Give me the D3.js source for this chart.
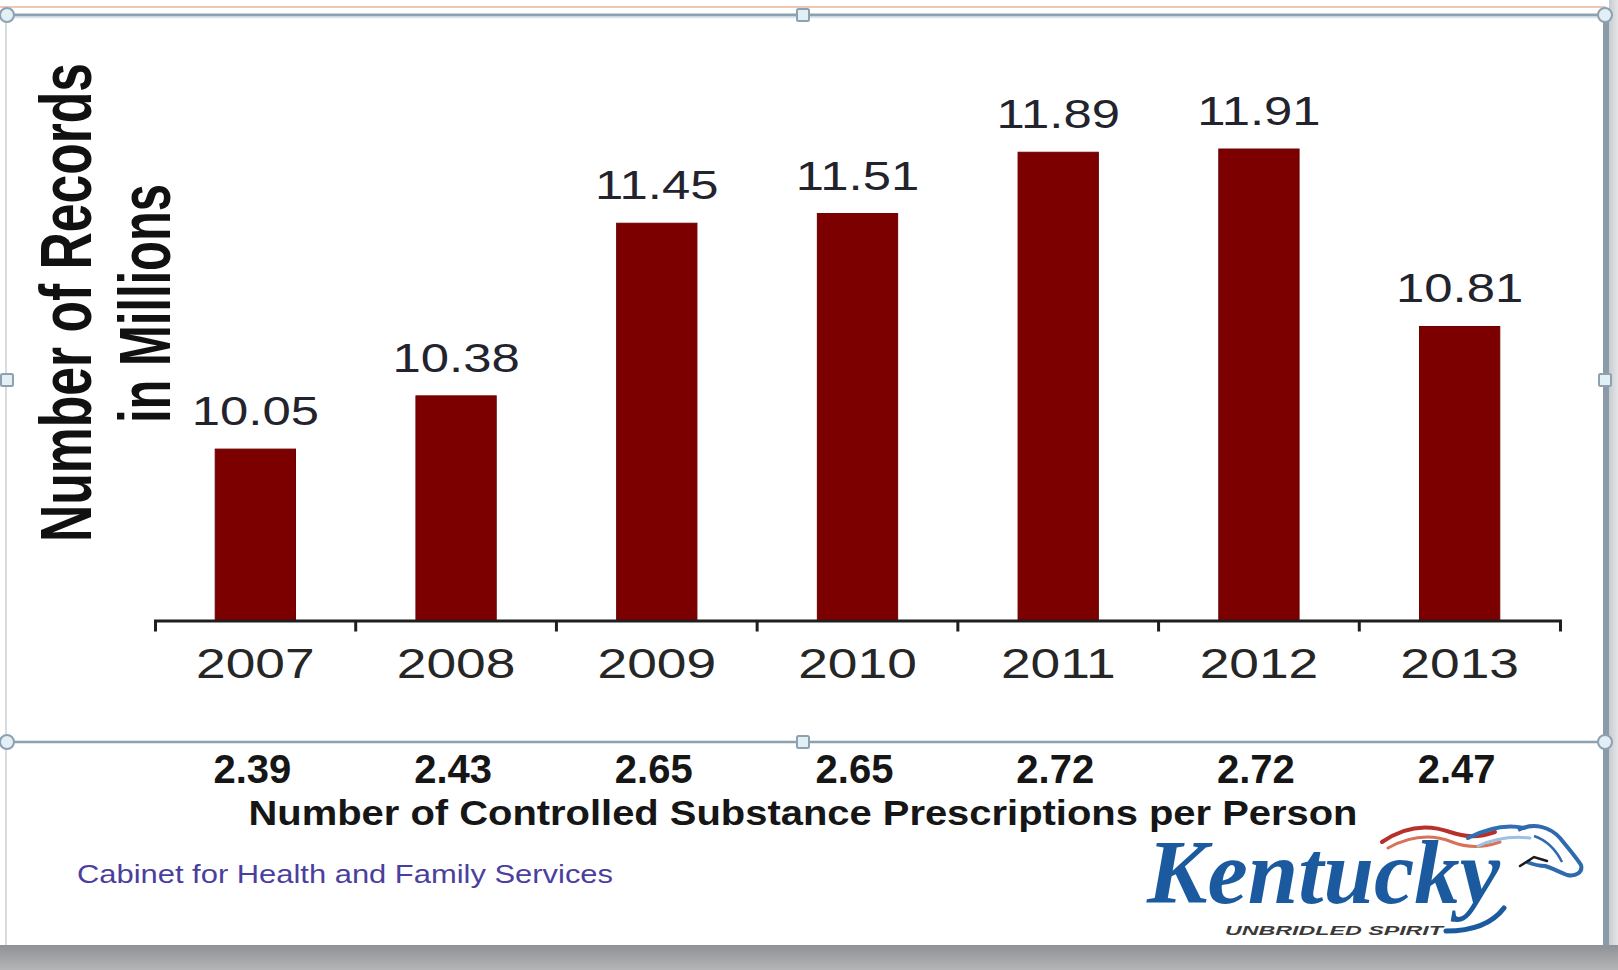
<!DOCTYPE html>
<html>
<head>
<meta charset="utf-8">
<script src="https://cdn.jsdelivr.net/npm/d3@7"></script>
<style>
  html, body { margin: 0; padding: 0; background: #ffffff; }
  svg { display: block; }
</style>
</head>
<body>
<svg id="chart" width="1618" height="970"></svg>
<script>
// Kentucky controlled-substance records, 2007–2013
const years = ["2007", "2008", "2009", "2010", "2011", "2012", "2013"];
const recordsMillions = [10.05, 10.38, 11.45, 11.51, 11.89, 11.91, 10.81];
const rxPerPerson = [2.39, 2.43, 2.65, 2.65, 2.72, 2.72, 2.47];
const valueDomain = [9, 12];

const yTitleLines = ["Number of Records", "in Millions"];
const bottomTitle = "Number of Controlled Substance Prescriptions per Person";
const footerText = "Cabinet for Health and Family Services";
const logoWord = "Kentucky";
const logoTagline = "UNBRIDLED SPIRIT";

const W = 1618, H = 970;
const SANS = "'Liberation Sans', Arial, Helvetica, sans-serif";
const SERIF = "'Liberation Serif', 'Times New Roman', serif";
const BAR = "#7d0000";
const FRAME = "#8da1b3";

const svg = d3.select("#chart");
const defs = svg.append("defs");

// ---- page background and drop shadow of the slide object ----
svg.append("rect").attr("width", W).attr("height", H).attr("fill", "#ffffff");

const gShadow = defs.append("linearGradient").attr("id", "shadowBottom")
  .attr("x1", 0).attr("y1", 0).attr("x2", 0).attr("y2", 1);
gShadow.append("stop").attr("offset", 0).attr("stop-color", "#8f9194");
gShadow.append("stop").attr("offset", 1).attr("stop-color", "#b3b5b7");
const gSide = defs.append("linearGradient").attr("id", "shadowSide")
  .attr("x1", 0).attr("y1", 0).attr("x2", 1).attr("y2", 0);
gSide.append("stop").attr("offset", 0).attr("stop-color", "#c9cccf");
gSide.append("stop").attr("offset", 1).attr("stop-color", "#e4e6e8");

svg.append("rect").attr("x", 1609).attr("y", 0).attr("width", W - 1609).attr("height", 946)
  .attr("fill", "url(#shadowSide)");
svg.append("rect").attr("x", 0).attr("y", 945).attr("width", W).attr("height", H - 945)
  .attr("fill", "url(#shadowBottom)");

// ---- scales ----
const x = d3.scaleBand().domain(years).range([155, 1560])
  .paddingInner(0.6).paddingOuter(0.3);
const y = d3.scaleLinear().domain(valueDomain).range([618.5, 134.5]);
const step = x.step();
const center = d => x(d) + x.bandwidth() / 2;
const baseY = y(valueDomain[0]);

const plot = svg.append("g");

// bars
plot.selectAll("rect.bar")
  .data(years.map((yr, i) => ({ yr, v: recordsMillions[i] })))
  .join("rect")
  .attr("class", "bar")
  .attr("x", d => x(d.yr))
  .attr("y", d => y(d.v))
  .attr("width", x.bandwidth())
  .attr("height", d => baseY - y(d.v) + 2)
  .attr("fill", BAR)
  .attr("stroke", "#6a0000")
  .attr("stroke-width", 1);

// value labels above bars
plot.selectAll("text.val")
  .data(years.map((yr, i) => ({ yr, v: recordsMillions[i] })))
  .join("text")
  .attr("class", "val")
  .attr("transform", d => `translate(${center(d.yr)},${y(d.v) - 24}) scale(1.27,1)`)
  .attr("text-anchor", "middle")
  .attr("font-family", SANS)
  .attr("font-size", 40)
  .attr("fill", "#23232d")
  .text(d => d.v.toFixed(2));

// category axis
const axis = d3.axisBottom(x).tickSize(0).tickSizeOuter(11).tickPadding(0);
const gAxis = plot.append("g").attr("transform", `translate(0,${baseY + 2})`).call(axis);
gAxis.select(".domain").attr("stroke", "#1e1e1e").attr("stroke-width", 3).attr("fill", "none");
gAxis.selectAll(".tick text")
  .attr("y", 0)
  .attr("dy", 0)
  .attr("transform", "translate(0,57) scale(1.24,1)")
  .attr("font-family", SANS)
  .attr("font-size", 43)
  .attr("fill", "#262626");

// tick marks on the boundaries between categories
gAxis.selectAll("line.sep")
  .data(d3.range(1, years.length))
  .join("line")
  .attr("class", "sep")
  .attr("x1", i => x.range()[0] + i * step)
  .attr("x2", i => x.range()[0] + i * step)
  .attr("y1", 0).attr("y2", 11)
  .attr("stroke", "#1e1e1e").attr("stroke-width", 3);

// vertical title (two lines)
const yTitle = [
  { text: yTitleLines[0], bx: 91, cy: 302.5, len: 479 },
  { text: yTitleLines[1], bx: 170, cy: 303.5, len: 239 }
];
svg.selectAll("text.ytitle")
  .data(yTitle)
  .join("text")
  .attr("class", "ytitle")
  .attr("transform", d => `translate(${d.bx},${d.cy}) scale(1.4,1) rotate(-90)`)
  .attr("text-anchor", "middle")
  .attr("font-family", SANS)
  .attr("font-weight", "bold")
  .attr("font-size", 51)
  .attr("textLength", d => d.len)
  .attr("lengthAdjust", "spacingAndGlyphs")
  .attr("fill", "#111")
  .text(d => d.text);

// prescriptions per person row
svg.selectAll("text.rx")
  .data(years.map((yr, i) => ({ yr, v: rxPerPerson[i] })))
  .join("text")
  .attr("class", "rx")
  .attr("x", d => center(d.yr) - 3)
  .attr("y", 783)
  .attr("text-anchor", "middle")
  .attr("font-family", SANS)
  .attr("font-weight", "bold")
  .attr("font-size", 40)
  .attr("fill", "#161616")
  .text(d => d.v.toFixed(2));

svg.append("text")
  .attr("x", 803).attr("y", 825)
  .attr("text-anchor", "middle")
  .attr("font-family", SANS)
  .attr("font-weight", "bold")
  .attr("font-size", 35)
  .attr("textLength", 1109)
  .attr("lengthAdjust", "spacingAndGlyphs")
  .attr("fill", "#161616")
  .text(bottomTitle);

svg.append("text")
  .attr("x", 77).attr("y", 883)
  .attr("font-family", SANS)
  .attr("font-size", 25)
  .attr("textLength", 536)
  .attr("lengthAdjust", "spacingAndGlyphs")
  .attr("fill", "#4b3f9e")
  .text(footerText);

// ---- state logo ----
const logo = svg.append("g");
// mane streaks
logo.append("path")
  .attr("d", "M1382,842 C1405,826 1428,824 1450,832 C1465,837 1478,838 1495,832")
  .attr("fill", "none").attr("stroke", "#b8302a").attr("stroke-width", 4).attr("stroke-linecap", "round");
logo.append("path")
  .attr("d", "M1388,848 C1410,836 1432,834 1452,842 C1468,848 1482,848 1500,842")
  .attr("fill", "none").attr("stroke", "#d8735a").attr("stroke-width", 3).attr("stroke-linecap", "round");
logo.append("path")
  .attr("d", "M1468,838 C1488,828 1506,824 1524,828")
  .attr("fill", "none").attr("stroke", "#2f6fb4").attr("stroke-width", 4).attr("stroke-linecap", "round");
logo.append("path")
  .attr("d", "M1478,846 C1496,838 1512,836 1530,838")
  .attr("fill", "none").attr("stroke", "#9cc1e2").attr("stroke-width", 3).attr("stroke-linecap", "round");
// horse head
logo.append("path")
  .attr("d", "M1518,830 C1534,822 1550,827 1560,838 C1568,848 1576,857 1581,865 C1583,872 1576,877 1567,875 C1559,872 1552,868 1545,866 C1538,866 1532,864 1527,862")
  .attr("fill", "none").attr("stroke", "#2d6aae").attr("stroke-width", 4).attr("stroke-linejoin", "round");
logo.append("path")
  .attr("d", "M1534,836 C1546,840 1556,850 1562,862")
  .attr("fill", "none").attr("stroke", "#2d6aae").attr("stroke-width", 2.5);
logo.append("path")
  .attr("d", "M1520,866 L1534,857 L1547,861")
  .attr("fill", "none").attr("stroke", "#1a1a1a").attr("stroke-width", 2.5).attr("stroke-linecap", "round");
// tail swoosh under the wordmark
logo.append("path")
  .attr("d", "M1446,931 C1472,931 1492,924 1504,908")
  .attr("fill", "none").attr("stroke", "#1b5a9e").attr("stroke-width", 5).attr("stroke-linecap", "round");

logo.append("text")
  .attr("x", 1147).attr("y", 903)
  .attr("font-family", SERIF)
  .attr("font-weight", "bold")
  .attr("font-style", "italic")
  .attr("font-size", 90)
  .attr("textLength", 353)
  .attr("lengthAdjust", "spacingAndGlyphs")
  .attr("fill", "#1b5a9e")
  .text(logoWord);
logo.append("text")
  .attr("x", 1225).attr("y", 935)
  .attr("font-family", SANS)
  .attr("font-weight", "bold")
  .attr("font-style", "italic")
  .attr("font-size", 13)
  .attr("textLength", 218)
  .attr("lengthAdjust", "spacingAndGlyphs")
  .attr("fill", "#3a3a3a")
  .text(logoTagline);

// ---- selection frame around the chart object ----
const frame = svg.append("g");
frame.append("line").attr("x1", 0).attr("x2", 1606).attr("y1", 7).attr("y2", 7)
  .attr("stroke", "#f0c7b2").attr("stroke-width", 2);
frame.append("line").attr("x1", 7).attr("x2", 1606).attr("y1", 15).attr("y2", 15)
  .attr("stroke", FRAME).attr("stroke-width", 3);
frame.append("line").attr("x1", 7).attr("x2", 1606).attr("y1", 17.5).attr("y2", 17.5)
  .attr("stroke", "#d9e6ef").attr("stroke-width", 1.5);
frame.append("line").attr("x1", 6).attr("x2", 6).attr("y1", 15).attr("y2", 945)
  .attr("stroke", "#c9d0d6").attr("stroke-width", 1.5);
frame.append("line").attr("x1", 1606).attr("x2", 1606).attr("y1", 15).attr("y2", 946)
  .attr("stroke", "#8b9aa8").attr("stroke-width", 6);
frame.append("line").attr("x1", 7).attr("x2", 1606).attr("y1", 742).attr("y2", 742)
  .attr("stroke", FRAME).attr("stroke-width", 2.5);

const handles = [
  { t: "c", x: 7, y: 15 }, { t: "c", x: 1605, y: 15 },
  { t: "c", x: 7, y: 742 }, { t: "c", x: 1605, y: 742 },
  { t: "s", x: 803, y: 15 }, { t: "s", x: 803, y: 742 },
  { t: "s", x: 7, y: 380 }, { t: "s", x: 1605, y: 380 }
];
frame.selectAll("circle.h").data(handles.filter(d => d.t === "c")).join("circle")
  .attr("class", "h").attr("cx", d => d.x).attr("cy", d => d.y).attr("r", 7)
  .attr("fill", "#e2f0f6").attr("stroke", FRAME).attr("stroke-width", 2);
frame.selectAll("rect.h").data(handles.filter(d => d.t === "s")).join("rect")
  .attr("class", "h").attr("x", d => d.x - 6).attr("y", d => d.y - 6)
  .attr("width", 12).attr("height", 12).attr("rx", 1.5)
  .attr("fill", "#e2f0f6").attr("stroke", FRAME).attr("stroke-width", 2);
</script>
</body>
</html>
